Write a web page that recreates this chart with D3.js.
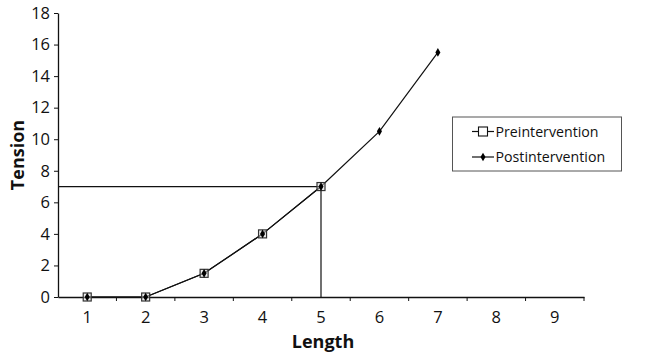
<!DOCTYPE html>
<html><head><meta charset="utf-8">
<script src="https://cdn.jsdelivr.net/npm/d3@7/dist/d3.min.js"></script>
<style>body{margin:0;background:#fff}svg{display:block}text{font-family:"Open Sans","DejaVu Sans",sans-serif}</style>
</head><body><svg id="c" width="660" height="357"></svg>
<script>
const categories = [1,2,3,4,5,6,7,8,9];
const preValues = [0,0,1.5,4,7];
const postValues = [0,0,1.5,4,7,10.5,15.5];
const yTicks = [0,2,4,6,8,10,12,14,16,18];
const refPoint = {x:5, y:7};
const seriesNames = ["Preintervention","Postintervention"];

const svg = d3.select("#c");
const x = d3.scaleBand().domain(categories).range([58,584]).padding(0);
const y = d3.scaleLinear().domain([0,18]).range([297,13]);
const cx = d => x(d) + x.bandwidth()/2;

// y axis
const ya = svg.append("g").attr("transform","translate(58,0)")
  .call(d3.axisLeft(y).tickValues(yTicks).tickSize(4).tickPadding(4).tickSizeOuter(0));
ya.selectAll("text").style("font-size","16.5px").attr("fill","#111");
ya.select(".domain").attr("stroke","#111").attr("stroke-width",1.3);
ya.selectAll(".tick line").attr("stroke","#111");

// x axis
const xa = svg.append("g").attr("transform","translate(0,297)")
  .call(d3.axisBottom(x).tickSize(0).tickPadding(14).tickSizeOuter(0));
xa.selectAll("text").style("font-size","16.5px").attr("fill","#111");
xa.select(".domain").attr("stroke","#111").attr("stroke-width",1.3);
// band boundary ticks
svg.append("g").selectAll("line").data(categories).join("line")
  .attr("x1",d=>x(d)+x.bandwidth()).attr("x2",d=>x(d)+x.bandwidth())
  .attr("y1",297).attr("y2",301).attr("stroke","#111");

// axis titles
svg.append("text").attr("transform","translate(24,155) rotate(-90)")
  .attr("text-anchor","middle").style("font-size","18px").style("font-weight","bold").attr("fill","#111").text("Tension");
svg.append("text").attr("x",323).attr("y",348)
  .attr("text-anchor","middle").style("font-size","18px").style("font-weight","bold").attr("fill","#111").text("Length");

// reference lines
svg.append("line").attr("x1",58).attr("x2",cx(refPoint.x)).attr("y1",y(refPoint.y)).attr("y2",y(refPoint.y)).attr("stroke","#111").attr("stroke-width",1.2);
svg.append("line").attr("x1",cx(refPoint.x)).attr("x2",cx(refPoint.x)).attr("y1",y(refPoint.y)).attr("y2",y(0)).attr("stroke","#111").attr("stroke-width",1.2);

const line = d3.line().x((d,i)=>cx(categories[i])).y(d=>y(d));
svg.append("path").attr("d",line(preValues)).attr("fill","none").attr("stroke","#111").attr("stroke-width",1.2);
svg.append("path").attr("d",line(postValues)).attr("fill","none").attr("stroke","#111").attr("stroke-width",1.2);

// pre markers: open squares
svg.append("g").selectAll("rect").data(preValues).join("rect")
  .attr("x",(d,i)=>cx(categories[i])-4).attr("y",d=>y(d)-4).attr("width",8).attr("height",8)
  .attr("fill","#ddd").attr("fill-opacity",0.5).attr("stroke","#333").attr("stroke-width",1.2);
// post markers: diamonds
const diamond = d3.symbol().type(d3.symbolDiamond).size(22);
svg.append("g").selectAll("path").data(postValues).join("path")
  .attr("transform",(d,i)=>`translate(${cx(categories[i])},${y(d)})`).attr("d",diamond).attr("fill","#000");

// legend
const lg = svg.append("g");
lg.append("rect").attr("x",452.5).attr("y",117).attr("width",169).attr("height",54).attr("fill","#fff").attr("stroke","#555").attr("stroke-width",1);
const ly = [131.5,157];
seriesNames.forEach((n,i)=>{
  lg.append("line").attr("x1",472).attr("x2",494).attr("y1",ly[i]).attr("y2",ly[i]).attr("stroke","#111").attr("stroke-width",1.2);
  if(i===0) lg.append("rect").attr("x",478.5).attr("y",ly[i]-4.5).attr("width",9).attr("height",9).attr("fill","#fff").attr("stroke","#111").attr("stroke-width",1.1);
  else lg.append("path").attr("transform",`translate(483,${ly[i]})`).attr("d",diamond).attr("fill","#000");
  lg.append("text").attr("x",495.5).attr("y",ly[i]+5).style("font-size","14.2px").attr("fill","#111").text(n);
});
</script></body></html>
